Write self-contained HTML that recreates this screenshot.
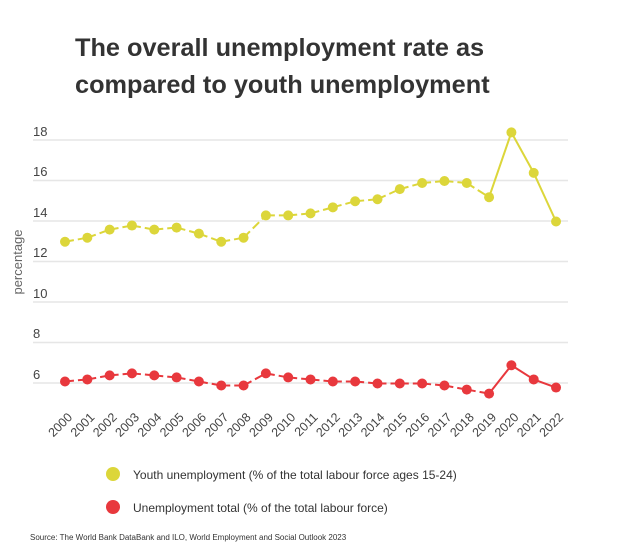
<!DOCTYPE html><html><head><style>body{margin:0;background:#fff}text{font-family:"Liberation Sans",sans-serif}</style></head><body>
<svg width="624" height="550" xmlns="http://www.w3.org/2000/svg">
<text x="75" y="56" font-size="25.3" font-weight="bold" fill="#333">The overall unemployment rate as</text>
<text x="75" y="93" font-size="25.3" font-weight="bold" fill="#333">compared to youth unemployment</text>
<g stroke="#e6e6e6" stroke-width="1.5">
<line x1="33" x2="568" y1="140" y2="140"/><line x1="33" x2="568" y1="180.5" y2="180.5"/><line x1="33" x2="568" y1="221" y2="221"/><line x1="33" x2="568" y1="261.5" y2="261.5"/><line x1="33" x2="568" y1="302" y2="302"/><line x1="33" x2="568" y1="342.5" y2="342.5"/><line x1="33" x2="568" y1="383" y2="383"/>
</g>
<g font-size="13" fill="#444">
<text x="33" y="136">18</text><text x="33" y="176">16</text><text x="33" y="217">14</text><text x="33" y="257">12</text><text x="33" y="298">10</text><text x="33" y="338">8</text><text x="33" y="379">6</text>
</g>
<text transform="translate(22,262) rotate(-90)" text-anchor="middle" font-size="13" fill="#666">percentage</text>
<g id="c"></g>
<circle cx="113" cy="474" r="7" fill="#dcd63a"/><text x="133" y="479" font-size="12" fill="#333">Youth unemployment (% of the total labour force ages 15-24)</text>
<circle cx="113" cy="507" r="7" fill="#e8383d"/><text x="133" y="512" font-size="12" fill="#333">Unemployment total (% of the total labour force)</text>
<text x="30" y="540" font-size="8" fill="#333">Source: The World Bank DataBank and ILO, World Employment and Social Outlook 2023</text>
</svg>
<script>
var Y=[13.0,13.2,13.6,13.8,13.6,13.7,13.4,13.0,13.2,14.3,14.3,14.4,14.7,15.0,15.1,15.6,15.9,16.0,15.9,15.2,18.4,16.4,14.0];
var R=[6.1,6.2,6.4,6.5,6.4,6.3,6.1,5.9,5.9,6.5,6.3,6.2,6.1,6.1,6.0,6.0,6.0,5.9,5.7,5.5,6.9,6.2,5.8];
var g=document.getElementById('c'),s='';
function X(i){return 65+i*22.32}function V(v){return 383.5-(v-6)*20.25}
function ser(d,c){for(var i=0;i<22;i++){s+='<line x1="'+X(i)+'" y1="'+V(d[i])+'" x2="'+X(i+1)+'" y2="'+V(d[i+1])+'" stroke="'+c+'" stroke-width="2"'+(i<19?' stroke-dasharray="9,4"':'')+'/>';}
for(var i=0;i<23;i++)s+='<circle cx="'+X(i)+'" cy="'+V(d[i])+'" r="5" fill="'+c+'"/>';}
ser(Y,'#dcd63a');ser(R,'#e8383d');
for(var i=0;i<23;i++){var x=X(i)+8,y=418;s+='<text transform="translate('+x+','+y+') rotate(-45)" text-anchor="end" font-size="12.5" fill="#444">'+(2000+i)+'</text>';}
g.innerHTML=s;
</script>
</body></html>
